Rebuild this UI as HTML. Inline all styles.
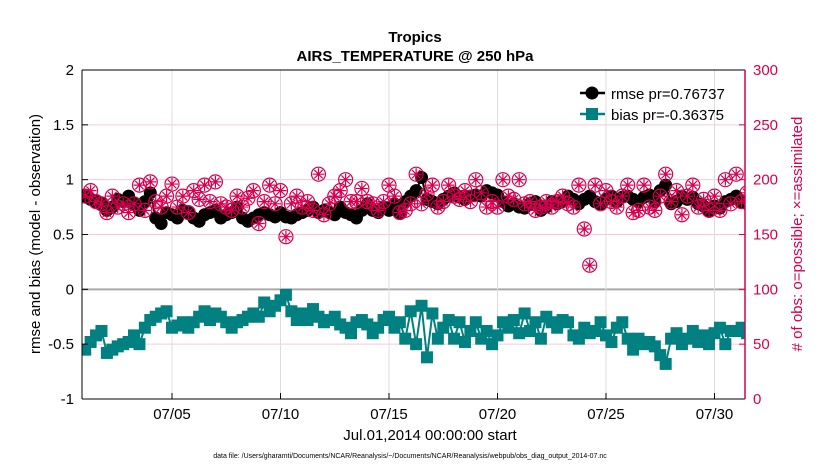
<!DOCTYPE html>
<html><head><meta charset="utf-8"><style>
body{margin:0;background:#fff;font-family:"Liberation Sans",sans-serif}
svg{display:block}
</style></head><body>
<svg id="chart" width="830" height="470" xmlns="http://www.w3.org/2000/svg">
<text x="415" y="42" text-anchor="middle" font-size="15" font-weight="bold">Tropics</text>
<text x="415" y="61" text-anchor="middle" font-size="15" font-weight="bold">AIRS_TEMPERATURE @ 250 hPa</text>
<g id="grid"></g>
<g id="marks"></g>
<g id="axes"></g>
<text x="430" y="440" text-anchor="middle" font-size="15">Jul.01,2014 00:00:00 start</text>
<text transform="translate(40,234) rotate(-90)" text-anchor="middle" font-size="15">rmse and bias (model - observation)</text>
<text transform="translate(802,234) rotate(-90)" text-anchor="middle" font-size="15" fill="#d6004f"># of obs: o=possible; ×=assimilated</text>
<text x="410" y="458" text-anchor="middle" font-size="7">data file: /Users/gharamti/Documents/NCAR/Reanalysis/~/Documents/NCAR/Reanalysis/webpub/obs_diag_output_2014-07.nc</text>
<g>
<line x1="580" y1="93" x2="605" y2="93" stroke="#000" stroke-width="2.5"/><circle cx="592" cy="93" r="6.5" fill="#000"/>
<text x="611" y="99" font-size="15">rmse pr=0.76737</text>
<line x1="580" y1="114" x2="605" y2="114" stroke="#008080" stroke-width="2.5"/><rect x="586" y="108" width="12" height="12" fill="#008080"/>
<text x="611" y="120" font-size="15">bias pr=-0.36375</text>
</g>
</svg>
<script>
const rmse=[0.85,0.82,0.80,0.78,0.72,0.75,0.82,0.80,0.85,0.78,0.72,0.80,0.88,0.65,0.60,0.70,0.68,0.65,0.72,0.70,0.65,0.62,0.68,0.70,0.72,0.65,0.68,0.70,0.75,0.65,0.62,0.65,0.68,0.70,0.68,0.66,0.70,0.66,0.65,0.68,0.70,0.72,0.75,0.70,0.72,0.70,0.68,0.75,0.70,0.68,0.65,0.72,0.78,0.72,0.70,0.75,0.72,0.78,0.70,0.80,0.85,0.90,1.02,0.82,0.80,0.78,0.82,0.85,0.88,0.84,0.82,0.85,0.86,0.85,0.90,0.88,0.86,0.80,0.76,0.78,0.75,0.74,0.78,0.80,0.72,0.75,0.80,0.78,0.80,0.85,0.82,0.78,0.82,0.85,0.80,0.78,0.82,0.85,0.80,0.84,0.85,0.82,0.80,0.84,0.86,0.80,0.90,0.95,0.78,0.80,0.85,0.82,0.84,0.78,0.76,0.72,0.76,0.74,0.80,0.82,0.85,0.80,0.78,0.80];
const bias=[-0.55,-0.48,-0.42,-0.38,-0.58,-0.55,-0.52,-0.50,-0.48,-0.42,-0.50,-0.35,-0.28,-0.25,-0.22,-0.20,-0.35,-0.33,-0.30,-0.35,-0.30,-0.25,-0.20,-0.28,-0.22,-0.25,-0.30,-0.35,-0.30,-0.28,-0.25,-0.22,-0.25,-0.12,-0.20,-0.15,-0.10,-0.05,-0.20,-0.28,-0.22,-0.28,-0.18,-0.25,-0.30,-0.28,-0.25,-0.32,-0.35,-0.40,-0.30,-0.28,-0.32,-0.40,-0.35,-0.28,-0.25,-0.35,-0.30,-0.45,-0.20,-0.50,-0.15,-0.62,-0.22,-0.45,-0.35,-0.28,-0.45,-0.30,-0.48,-0.38,-0.30,-0.45,-0.38,-0.50,-0.42,-0.30,-0.35,-0.28,-0.40,-0.22,-0.38,-0.30,-0.45,-0.25,-0.30,-0.35,-0.28,-0.30,-0.42,-0.45,-0.35,-0.40,-0.38,-0.30,-0.42,-0.48,-0.35,-0.30,-0.45,-0.55,-0.45,-0.50,-0.48,-0.52,-0.60,-0.68,-0.45,-0.40,-0.50,-0.45,-0.38,-0.48,-0.42,-0.50,-0.40,-0.35,-0.50,-0.38,-0.38,-0.35,-0.40,-0.37];
const nobs=[185,190,180,178,170,185,175,178,170,178,195,172,198,180,175,185,196,175,185,170,190,182,195,180,198,178,175,172,185,175,183,190,160,180,195,178,190,148,178,185,175,180,172,205,168,178,185,190,200,180,180,192,180,178,172,180,195,185,170,172,178,205,178,187,195,175,180,195,185,182,190,180,200,188,175,180,175,200,185,182,200,178,180,172,175,180,175,180,185,178,175,195,155,122,195,178,190,180,175,185,195,170,172,195,175,172,185,205,180,190,168,185,195,175,182,172,185,172,200,178,205,180,188,175];
const yTicks=[-1,-0.5,0,0.5,1,1.5,2];
const yTickLabels=["-1","-0.5","0","0.5","1","1.5","2"];
const rTicks=[0,50,100,150,200,250,300];
const xTickDays=[4,9,14,19,24,29];
const xTickLabels=["07/05","07/10","07/15","07/20","07/25","07/30"];

const L=82,R=745,T=70,B=399,NS="http://www.w3.org/2000/svg";
const xs=d=>85.2+d*21.7;
const ys=v=>B-(v+1)/3*(B-T);
const yr=n=>B-n/300*(B-T);
function mk(tag,attrs,parent){const e=document.createElementNS(NS,tag);for(const k in attrs)e.setAttribute(k,attrs[k]);parent.appendChild(e);return e;}
const grid=document.getElementById('grid'),marks=document.getElementById('marks'),axes=document.getElementById('axes');
yTicks.forEach((t,i)=>{
 const g=mk('line',{x1:L,x2:R,y1:ys(t),y2:ys(t),stroke:t===0?'#aaa':'#f3c9dc','stroke-width':t===0?2:1},grid);
 
 
 const lb=mk('text',{x:L-8,y:ys(t)+5,'text-anchor':'end','font-size':15},axes);lb.textContent=yTickLabels[i];
 
 
 mk('line',{x1:L,x2:L+6,y1:ys(t),y2:ys(t),stroke:'#000'},axes);
});
rTicks.forEach(t=>{
 mk('line',{x1:R-6,x2:R,y1:yr(t),y2:yr(t),stroke:'#d6004f'},axes);
 const lb=mk('text',{x:R+8,y:yr(t)+5,'font-size':15,fill:'#d6004f'},axes);lb.textContent=t;
 
 
});
xTickDays.forEach((d,i)=>{
 const g=mk('line',{x1:xs(d),x2:xs(d),y1:T,y2:B,stroke:'#ddd'},grid);
 
 
 mk('line',{x1:xs(d),x2:xs(d),y1:B-6,y2:B,stroke:'#000'},axes);
 const lb=mk('text',{x:xs(d),y:B+20,'text-anchor':'middle','font-size':15},axes);lb.textContent=xTickLabels[i];
 
 
});
mk('line',{x1:L,x2:L,y1:T,y2:B,stroke:'#000'},axes);
mk('line',{x1:L,x2:R,y1:T,y2:T,stroke:'#000'},axes);
mk('line',{x1:L,x2:R,y1:B,y2:B,stroke:'#000'},axes);
mk('line',{x1:R,x2:R,y1:T,y2:B,stroke:'#d6004f','stroke-width':1.5},axes);
mk('clipPath',{id:'clip'},document.getElementById('chart'));
mk('rect',{x:L,y:T,width:R-L,height:B-T},document.getElementById('clip'));
marks.setAttribute('clip-path','url(#clip)');
const dayOf=i=>i/4;
const p1=mk('polyline',{points:rmse.map((v,i)=>xs(dayOf(i))+','+ys(v)).join(' '),fill:'none',stroke:'#000','stroke-width':2},marks);


rmse.forEach((v,i)=>{const c=mk('circle',{cx:xs(dayOf(i)),cy:ys(v),r:6.5,fill:'#000'},marks);
 
 });
const p2=mk('polyline',{points:bias.map((v,i)=>xs(dayOf(i))+','+ys(v)).join(' '),fill:'none',stroke:'#008080','stroke-width':2},marks);


bias.forEach((v,i)=>{const r=mk('rect',{x:xs(dayOf(i))-6,y:ys(v)-6,width:12,height:12,fill:'#008080'},marks);
 
 });
nobs.forEach((v,i)=>{const cx=xs(dayOf(i)),cy=yr(v);
 const g=mk('g',{stroke:'#d6004f','stroke-width':1.2,fill:'none'},marks);
 
 
 mk('circle',{cx:cx,cy:cy,r:7},g);
 mk('path',{d:`M${cx-6} ${cy}H${cx+6}M${cx} ${cy-6}V${cy+6}M${cx-4.2} ${cy-4.2}L${cx+4.2} ${cy+4.2}M${cx-4.2} ${cy+4.2}L${cx+4.2} ${cy-4.2}`},g);
});
</script>
</body></html>
